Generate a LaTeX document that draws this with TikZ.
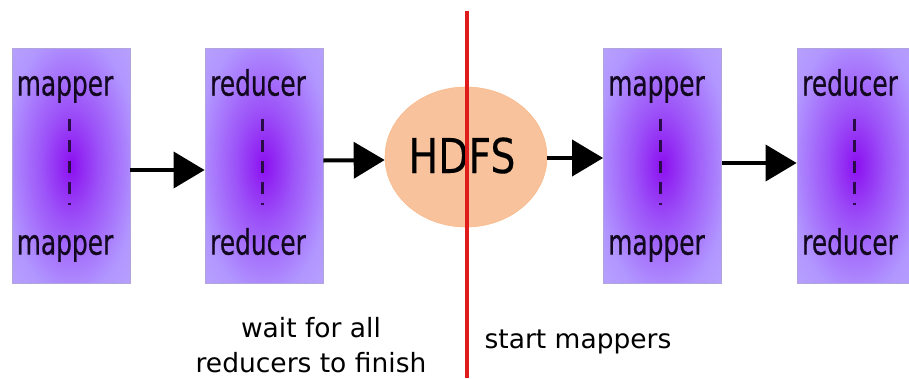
\documentclass[tikz,border=0pt]{standalone}
\usepackage{fontspec}
\setmainfont{DejaVu Sans}
\newfontfamily\boxfont[FakeStretch=0.71,FakeBold=0.6]{DejaVu Sans}
\newfontfamily\hdfsfont[FakeStretch=0.82,FakeBold=0.2]{DejaVu Sans}
\usetikzlibrary{arrows.meta,calc,shapes.geometric}
\definecolor{boxin}{HTML}{8C10F0}
\definecolor{boxinner}{HTML}{9C52F8}
\definecolor{boxmid}{HTML}{B196FF}
\definecolor{boxout}{HTML}{BFB2FF}
\definecolor{boxcorner}{HTML}{D6D0FF}
\definecolor{boxedge}{HTML}{B0A4DC}
\definecolor{diskfill}{HTML}{F8C29C}
\definecolor{cutline}{HTML}{E01B1B}
\definecolor{inktext}{HTML}{120820}
\definecolor{dashink}{HTML}{2A0C48}
% soft violet glow used to fill the worker boxes
\pgfdeclareradialshading{workerglow}{\pgfpoint{0bp}{0bp}}{%
  color(0bp)=(boxin); color(12bp)=(boxinner); color(28bp)=(boxmid);
  color(48bp)=(boxout); color(72bp)=(boxcorner)}
\tikzset{
  worker/.style={draw=boxedge, line width=0.8pt, shading=workerglow,
    minimum width=118pt, minimum height=235pt, inner sep=0pt},
  lbl/.style={font=\boxfont\fontsize{35}{35}\selectfont, text=inktext, anchor=base, inner sep=0pt},
  flow/.style={line width=4pt, -{Triangle[length=31pt,width=36pt]}},
  gap/.style={draw=dashink, line width=3pt, dash pattern=on 12pt off 9pt},
  note/.style={font=\fontsize{26.5}{35}\selectfont, text=black, align=center, inner sep=0pt},
}
\begin{document}
\begin{tikzpicture}[x=1pt,y=-1pt]
\useasboundingbox (0,0) rectangle (909,378);
\fill[white] (0,0) rectangle (909,378);

% worker boxes
\node[worker] (b1) at (71,165.5) {};
\node[worker] (b2) at (264,165.5) {};
\node[worker] (b3) at (662.5,165.5) {};
\node[worker] (b4) at (856,165.5) {};

% labels and dashed separators
\foreach \b/\t in {b1/mapper,b2/reducer,b3/mapper,b4/reducer}{
  \node[lbl] (\b top) at ($(\b.north)+(-6,48)$) {\t};
  \node[lbl] (\b bot) at ($(\b.north)+(-6,207)$) {\t};
  \coordinate (\b d1) at ($(\b.north)+(-2,71)$);
  \coordinate (\b d2) at ($(\b.north)+(-2,157)$);
  \draw[gap] (\b d1) -- (\b d2);
}

% HDFS store
\node[ellipse, fill=diskfill, draw=diskfill!90!orange, line width=0.6pt,
      minimum width=162pt, minimum height=140pt, inner sep=0pt] (h) at (466,157) {};
\node[font=\hdfsfont\fontsize{48}{48}\selectfont, text=black, anchor=base, inner sep=0pt]
      (ht) at ($(h.center)+(-4,16)$) {HDFS};

% data flow
\draw[flow] ($(b1.east)+(0,4.5)$) -- ($(b2.west)+(0,4.5)$);
\draw[flow] ($(b2.east)+(0,-5)$) -- ($(h.west)+(0,3)$);
\draw[flow] ($(h.east)+(0,1)$) -- ($(b3.west)+(0,-7.5)$);
\draw[flow] ($(b3.east)+(0,-2.5)$) -- ($(b4.west)+(0,-2.5)$);

% barrier
\coordinate (cut1) at (467,11);
\coordinate (cut2) at (467,378);
\draw[cutline, line width=4.5pt] (cut1) -- (cut2);

% notes
\node[note, anchor=base] (w1) at (311,337) {wait for all};
\node[note, anchor=base] (w2) at (311,372) {reducers to finish};
\node[note, anchor=base] (s1) at (578,348) {start mappers};
\end{tikzpicture}
\end{document}
